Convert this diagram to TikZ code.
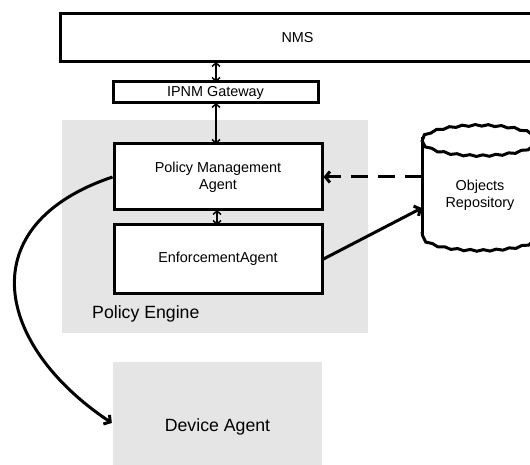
\documentclass[tikz,border=0pt]{standalone}
\usepackage{fontspec}
\setmainfont{Liberation Sans}
\usetikzlibrary{arrows.meta,decorations.pathmorphing,calc}
\definecolor{pegray}{HTML}{E5E5E5}
\begin{document}
\begin{tikzpicture}[x=1bp,y=-1bp,
  box/.style={draw=black,line width=3bp,fill=white,rectangle,inner sep=0pt,align=center,font=\fontsize{14.4bp}{17bp}\selectfont},
  area/.style={fill=pegray,draw=none,rectangle,inner sep=0pt},
  biglabel/.style={font=\fontsize{17.7bp}{20bp}\selectfont,inner sep=0pt},
  thinarr/.style={line width=1.5bp,{Straight Barb[length=3.5bp,width=8bp]}-{Straight Barb[length=3.5bp,width=8bp]}},
  thickarr/.style={line width=3bp,-{Straight Barb[length=4.5bp,width=11bp]}},
  dasharr/.style={thickarr,dash pattern=on 17bp off 10bp},
  wavy/.style={line width=3bp,decorate,decoration={snake,amplitude=0.8bp,segment length=13bp}}
]
\useasboundingbox (0,0) rectangle (530,465);
% areas
\node[area,minimum width=306bp,minimum height=213bp] (pe) at (215,226.5) {};
\node[biglabel,anchor=west] (pelabel) at (92,314) {Policy Engine};
\node[area,minimum width=209bp,minimum height=130bp] (da) at (217.5,427) {};
\node[biglabel] (dalabel) at (217.5,427) {Device Agent};
% boxes
\node[box,minimum width=473bp,minimum height=48bp] (nms) at (297.5,38) {NMS};
\node[box,minimum width=205bp,minimum height=21bp] (gw) at (215.5,92.5) {IPNM Gateway};
\node[box,minimum width=208bp,minimum height=66bp] (pma) at (218,177) {Policy Management\\Agent};
\node[box,minimum width=208bp,minimum height=68bp] (ea) at (218,259) {EnforcementAgent};
% cylinder
\fill[white] (422,138) -- (422,232) .. controls (422,252) and (538,252) .. (538,232) -- (538,138) -- cycle;
\fill[white] (480,138) ellipse [x radius=58, y radius=15];
\draw[wavy] (480,138) ellipse [x radius=58, y radius=15];
\draw[line width=3bp] (422,137) -- (422,233);
\draw[line width=3bp] (538,137) -- (538,233);
\draw[wavy] (422,232) .. controls (422,252) and (538,252) .. (538,232);
\node[align=center,inner sep=0pt,minimum width=116bp,minimum height=124bp,font=\fontsize{14.4bp}{17bp}\selectfont] (repo) at (480,195) {Objects\\Repository};
% connectors
\draw[thinarr] (216,62) -- (216,82);
\draw[thinarr] (216,103) -- (216,144);
\draw[thinarr] (217,210) -- (217,225);
\draw[dasharr] (repo.west |- pma.east) -- (pma.east);
\draw[thickarr] (ea.east) -- ($(repo.west)+(0,13)$);
\draw[thickarr] (pma.west) .. controls (-30,225) and (-5,345) .. ($(da.west)+(-1,-4)$);
\end{tikzpicture}
\end{document}
